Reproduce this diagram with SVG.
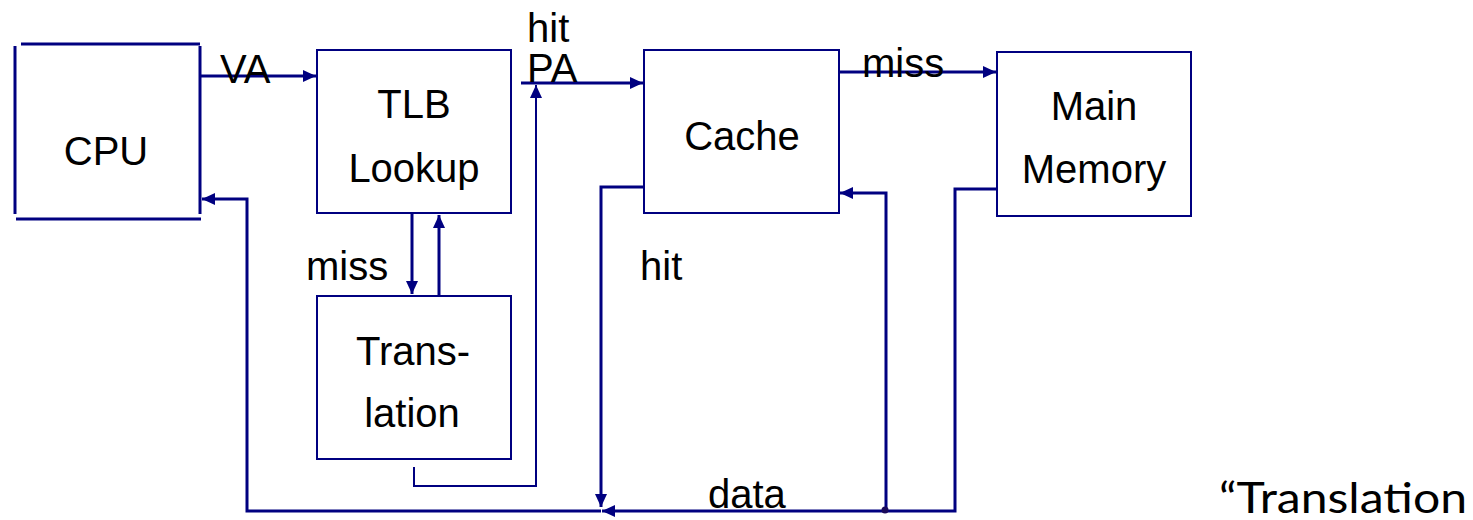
<svg xmlns="http://www.w3.org/2000/svg" width="1473" height="520" viewBox="0 0 1473 520">
  <style>
    .box { fill: #ffffff; stroke: #000080; stroke-width: 2; }
    .edge { fill: none; stroke: #000080; stroke-width: 3; }
    .thin { fill: none; stroke: #000080; stroke-width: 2; }
    .lbl { font-family: "Liberation Sans", Arial, sans-serif; font-size: 40px; fill: #000000; }
    .mid { text-anchor: middle; }
  </style>
  <defs>
    <marker id="arrow" markerUnits="userSpaceOnUse" markerWidth="14" markerHeight="14" viewBox="0 0 14 14" refX="13" refY="7" orient="auto">
      <path d="M0,1 L13,7 L0,13 Z" fill="#000080"/>
    </marker>
  </defs>

  <rect width="1473" height="520" fill="#ffffff"/>

  <!-- CPU: drawn as four separate strokes -->
  <g id="cpu">
    <line class="edge" x1="15" y1="46" x2="15" y2="214"/>
    <line class="edge" x1="21" y1="44" x2="200" y2="44"/>
    <line class="edge" x1="200" y1="46" x2="200" y2="214"/>
    <line class="edge" x1="16" y1="219" x2="201" y2="219"/>
    <text class="lbl mid" x="106" y="165">CPU</text>
  </g>

  <g id="tlb">
    <rect class="box" x="317" y="50" width="194" height="163"/>
    <text class="lbl mid" x="414" y="118">TLB</text>
    <text class="lbl mid" x="414" y="182">Lookup</text>
  </g>

  <g id="translation">
    <rect class="box" x="317" y="296" width="194" height="163"/>
    <text class="lbl mid" x="413" y="365">Trans-</text>
    <text class="lbl mid" x="412" y="427">lation</text>
  </g>

  <g id="cache">
    <rect class="box" x="644" y="50" width="195" height="163"/>
    <text class="lbl mid" x="742" y="150">Cache</text>
  </g>

  <g id="main-memory">
    <rect class="box" x="997" y="52" width="194" height="164"/>
    <text class="lbl mid" x="1094" y="120">Main</text>
    <text class="lbl mid" x="1094" y="183">Memory</text>
  </g>

  <g id="connectors">
    <!-- CPU to TLB -->
    <line class="edge" x1="201" y1="76" x2="316" y2="76" marker-end="url(#arrow)"/>
    <!-- TLB hit to cache -->
    <line class="edge" x1="521" y1="83" x2="643" y2="83" marker-end="url(#arrow)"/>
    <!-- Translation result back up to PA -->
    <path class="thin" d="M414,467 V486 H536 V85" marker-end="url(#arrow)"/>
    <!-- TLB miss to translation and back -->
    <line class="edge" x1="412" y1="214" x2="412" y2="294" marker-end="url(#arrow)"/>
    <line class="edge" x1="439" y1="296" x2="439" y2="215" marker-end="url(#arrow)"/>
    <!-- cache miss to main memory -->
    <line class="edge" x1="839" y1="72" x2="996" y2="72" marker-end="url(#arrow)"/>
    <!-- cache hit down to data bus -->
    <path class="edge" d="M644,187 H601 V507" marker-end="url(#arrow)"/>
    <!-- main memory data onto bus -->
    <path class="edge" d="M997,189 H955 V511 H602" marker-end="url(#arrow)"/>
    <!-- data bus back to CPU -->
    <path class="edge" d="M601,511 H247 V199 H202" marker-end="url(#arrow)"/>
    <!-- data fill into cache -->
    <path class="edge" d="M886,510 V193 H840" marker-end="url(#arrow)"/>
    <circle cx="885" cy="510" r="3.5" fill="#1a0a5a"/>
  </g>

  <g id="labels">
    <text class="lbl" x="220" y="83">VA</text>
    <text class="lbl" x="527" y="42">hit</text>
    <text class="lbl" x="527" y="82">PA</text>
    <text class="lbl" x="862" y="77">miss</text>
    <text class="lbl" x="306" y="280">miss</text>
    <text class="lbl" x="640" y="280">hit</text>
    <text class="lbl" x="708" y="508">data</text>
    <text x="1219" y="513" font-family="Lato, 'Open Sans', sans-serif" font-size="42" textLength="248" lengthAdjust="spacingAndGlyphs" fill="#000000">“Translation</text>
  </g>
</svg>
